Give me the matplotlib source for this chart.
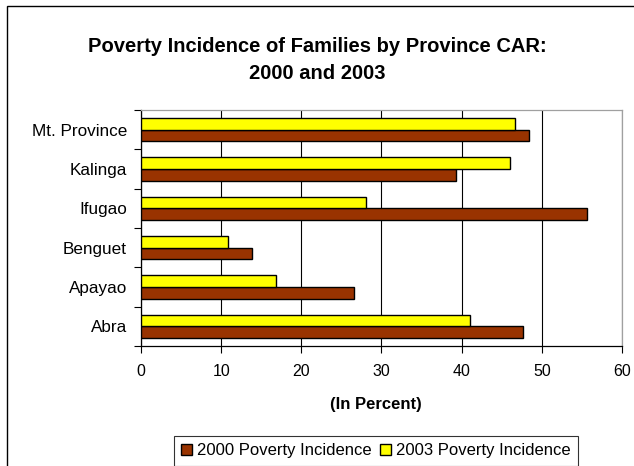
import numpy as np
import matplotlib.pyplot as plt
from matplotlib.patches import Rectangle

plt.rcParams['font.family'] = ['Liberation Sans', 'DejaVu Sans']

# datos (de abajo hacia arriba)
provincias = ["Abra", "Apayao", "Benguet", "Ifugao", "Kalinga", "Mt. Province"]
pobreza_2000 = [47.6, 26.6, 13.9, 55.6, 39.3, 48.4]
pobreza_2003 = [41.0, 16.8, 10.9, 28.1, 46.0, 46.7]
series = ["2000 Poverty Incidence", "2003 Poverty Incidence"]

color_2000 = "#993300"
color_2003 = "#FFFF00"

fig = plt.figure(figsize=(6.34, 4.66), dpi=100)
ax = fig.add_axes([141 / 634, 1 - 346 / 466, 481 / 634, 236 / 466])

y = np.arange(len(provincias))
h = 0.295

b1 = ax.barh(y - h / 2, pobreza_2000, height=h, color=color_2000,
             edgecolor="black", linewidth=1.0, label=series[0], zorder=3)
b2 = ax.barh(y + h / 2, pobreza_2003, height=h, color=color_2003,
             edgecolor="black", linewidth=1.0, label=series[1], zorder=3)

ax.set_xlim(0, 60)
ax.set_ylim(-0.5, len(provincias) - 0.5)
ax.set_xticks(np.arange(0, 61, 10))
ax.tick_params(axis="x", labelsize=11.5, length=5, width=0.8, color="black", pad=8)

# marcas en los limites de categoria, etiquetas al centro
ax.set_yticks(np.arange(-0.5, len(provincias), 1.0))
ax.set_yticklabels([])
ax.set_yticks(y, minor=True)
ax.set_yticklabels(provincias, minor=True)
ax.tick_params(axis="y", which="major", length=5, width=0.8)
ax.tick_params(axis="y", which="minor", length=0, labelsize=12.3, pad=10)

ax.grid(axis="x", color="black", linewidth=0.8, zorder=0)
ax.set_axisbelow(True)

ax.spines["left"].set_color("black")
ax.spines["bottom"].set_color("black")
ax.spines["top"].set_color("#a0a0a0")
ax.spines["right"].set_color("#a0a0a0")
for s in ax.spines.values():
    s.set_linewidth(0.9)

ax.set_xlabel("(In Percent)", fontsize=12, fontweight="bold", va="center")
ax.xaxis.set_label_coords((375.5 - 141) / 481, (346 - 405) / 236)

fig.text(317 / 634, 1 - 60 / 466,
         "Poverty Incidence of Families by Province CAR:\n2000 and 2003",
         ha="center", va="center", fontsize=14.5, fontweight="bold",
         linespacing=1.5)

leg = fig.legend(handles=[b1, b2], loc="upper center", ncol=2,
                 bbox_to_anchor=(376 / 634, 1 - 436 / 466),
                 fontsize=12, frameon=True, fancybox=False,
                 edgecolor="black", handlelength=0.65, handleheight=0.65,
                 handletextpad=0.3, columnspacing=0.5, borderpad=0.45,
                 borderaxespad=0)
leg.get_frame().set_linewidth(0.8)

# borde exterior del grafico (recortado a la derecha y abajo)
fig.patches.append(Rectangle((7 / 634, -0.1), 1.2, 1.1 - 6 / 466,
                             transform=fig.transFigure, fill=False,
                             edgecolor="black", linewidth=1.0))

fig.savefig("out.png", dpi=100)
